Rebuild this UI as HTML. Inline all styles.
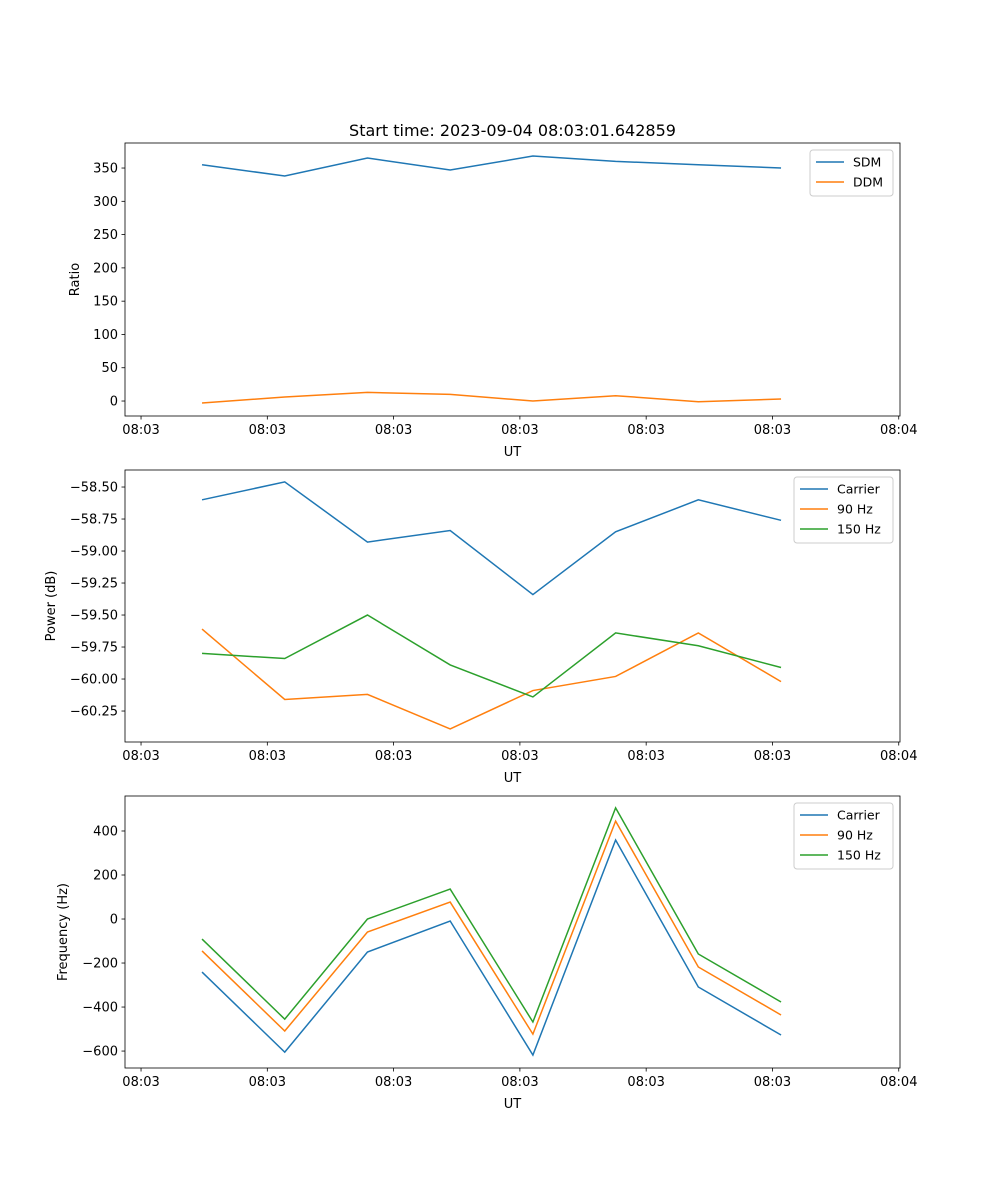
<!DOCTYPE html>
<html><head><meta charset="utf-8"><style>
html,body{margin:0;padding:0;background:#fff;}
svg{display:block;font-family:"DejaVu Sans","Liberation Sans",sans-serif;}
</style></head><body>
<svg id="fig" width="1000" height="1200" viewBox="0 0 1000 1200"></svg>
<script>
// shared x data: seconds after 08:03:00
const times = [4.83, 11.38, 17.93, 24.48, 31.03, 37.58, 44.13, 50.68];
const xTickVals = [0, 10, 20, 30, 40, 50, 60];
const xTickLabels = ["08:03","08:03","08:03","08:03","08:03","08:03","08:04"];
// panel 1
const sdm = [355, 338, 365, 347, 368, 360, 355, 350];
const ddm = [-3, 6, 13, 10, 0, 8, -1, 3];
const ratioTicks = [0, 50, 100, 150, 200, 250, 300, 350];
// panel 2
const powCarrier = [-58.60, -58.46, -58.93, -58.84, -59.34, -58.85, -58.60, -58.76];
const pow90 = [-59.61, -60.16, -60.12, -60.39, -60.09, -59.98, -59.64, -60.02];
const pow150 = [-59.80, -59.84, -59.50, -59.89, -60.14, -59.64, -59.74, -59.91];
const powTicks = [-60.25, -60.00, -59.75, -59.50, -59.25, -59.00, -58.75, -58.50];
// panel 3
const frqCarrier = [-241, -605, -150, -9, -618, 359, -309, -527];
const frq90 = [-145, -509, -59, 77, -523, 445, -218, -436];
const frq150 = [-91, -455, 0, 136, -468, 505, -159, -377];
const frqTicks = [-600, -400, -200, 0, 200, 400];

const NS = "http://www.w3.org/2000/svg";
const svg = document.getElementById("fig");
function mk(tag, attrs, parent) {
  const e = document.createElementNS(NS, tag);
  for (const k in attrs) e.setAttribute(k, attrs[k]);
  (parent || svg).appendChild(e);
  return e;
}
const C = ["#1f77b4", "#ff7f0e", "#2ca02c"];
const L = 125, R = 900;
const xMin = -1.27, xMax = 60.1;
function xs(v) { return L + (v - xMin) / (xMax - xMin) * (R - L); }

function panel(name, top, bot, yMin, yMax, yTicks, yFmt, yLabel, ylx, series, names, legendW) {
  const g = mk("g", {});
  
  
  const ys = v => bot - (v - yMin) / (yMax - yMin) * (bot - top);
  series.forEach((s, i) => {
    const p = mk("polyline", {points: s.map((v, j) => xs(times[j]) + "," + ys(v)).join(" "), fill: "none", stroke: C[i], "stroke-width": 1.5}, g);
    
    
  });
  const fr = mk("rect", {x: L, y: top, width: R - L, height: bot - top, fill: "none", stroke: "#000", "stroke-width": 0.8}, g);
  
  
  xTickVals.forEach((v, i) => {
    const x = xs(v);
    mk("line", {x1: x, x2: x, y1: bot, y2: bot + 3.5, stroke: "#000", "stroke-width": 0.8}, g);
    const t = mk("text", {x: x, y: bot + 18, "font-size": 13, "text-anchor": "middle"}, g);
    t.textContent = xTickLabels[i];
    
    
  });
  yTicks.forEach(v => {
    const y = ys(v);
    mk("line", {x1: L, x2: L - 3.5, y1: y, y2: y, stroke: "#000", "stroke-width": 0.8}, g);
    const t = mk("text", {x: L - 7, y: y + 4.5, "font-size": 13, "text-anchor": "end"}, g);
    t.textContent = yFmt(v);
    
    
  });
  const xl = mk("text", {x: (L + R) / 2, y: bot + 40, "font-size": 13, "text-anchor": "middle"}, g);
  xl.textContent = "UT";
  
  
  const yc = (top + bot) / 2;
  const yl = mk("text", {x: ylx, y: yc + 4, "font-size": 13, "text-anchor": "middle", transform: "rotate(-90 " + ylx + " " + yc + ")"}, g);
  yl.textContent = yLabel;
  
  
  // legend
  const lg = mk("g", {}, g);
  
  
  const lx = R - 7 - legendW, ly = top + 7, lh = 6 + names.length * 20;
  mk("rect", {x: lx, y: ly, width: legendW, height: lh, rx: 3, fill: "#fff", "fill-opacity": 0.8, stroke: "#ccc"}, lg);
  names.forEach((n, i) => {
    const yy = ly + 12 + i * 20;
    mk("line", {x1: lx + 6, x2: lx + 34, y1: yy, y2: yy, stroke: C[i], "stroke-width": 1.5}, lg);
    const t = mk("text", {x: lx + 43, y: yy + 4.5, "font-size": 12.5}, lg);
    t.textContent = n;
    
    
  });
}

const title = mk("text", {x: (L + R) / 2, y: 136, "font-size": 16, "text-anchor": "middle"});
title.textContent = "Start time: 2023-09-04 08:03:01.642859";



panel("ratio-panel", 143, 416, -22.5, 387.6, ratioTicks, v => String(v), "Ratio", 75, [sdm, ddm], ["SDM", "DDM"], 83);
panel("power-panel", 470, 742, -60.492, -58.367, powTicks, v => "\u2212" + Math.abs(v).toFixed(2), "Power (dB)", 51, [powCarrier, pow90, pow150], ["Carrier", "90 Hz", "150 Hz"], 99);
panel("frequency-panel", 796, 1068, -677, 559, frqTicks, v => v < 0 ? "\u2212" + Math.abs(v) : String(v), "Frequency (Hz)", 63, [frqCarrier, frq90, frq150], ["Carrier", "90 Hz", "150 Hz"], 99);
</script>
</body></html>
